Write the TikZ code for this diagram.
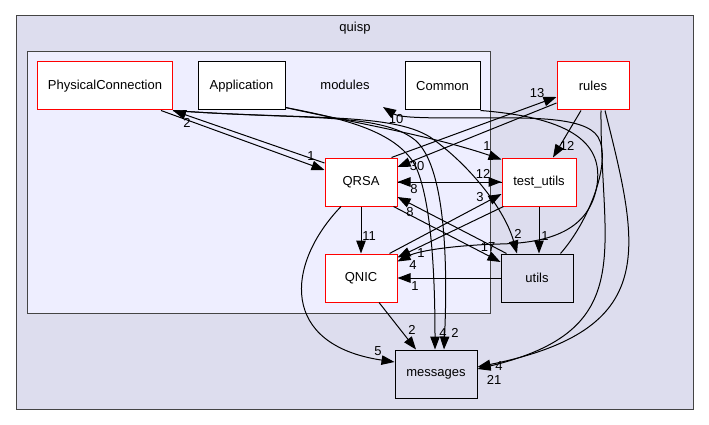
\documentclass[tikz,border=0pt]{standalone}
\usepackage{fontspec}
\setmainfont{Liberation Sans}
\usepackage{xcolor}
\usepackage{tikz}
\usetikzlibrary{arrows.meta}
\definecolor{quispfill}{HTML}{DDDDEE}
\definecolor{modfill}{HTML}{EEEEFF}
\definecolor{clusterline}{HTML}{444444}
\definecolor{dirred}{HTML}{FF0000}

\begin{document}
\begin{tikzpicture}[x=1pt, y=-1pt, line width=1pt,
    every node/.style={font=\fontsize{13}{15}\selectfont},
    dirbox/.style={draw=black, fill=white, minimum height=48pt, inner sep=0pt},
    moddir/.style={dirbox, draw=dirred},
    extdir/.style={dirbox, fill=quispfill},
    dep/.style={-{Triangle[length=13pt,width=9.5pt]}},
    lbl/.style={inner sep=0pt}]
  \useasboundingbox (0,0) rectangle (709,425);
  % clusters
  \draw[clusterline, fill=quispfill] (16,16) rectangle (693,409);
  \node (quisp) at (355,28) {quisp};
  \draw[clusterline, fill=modfill] (27,52) rectangle (490,313);
  \node (modules) at (345,85) {modules};
  \coordinate (modin) at (383,107);
  % directories
  \node[moddir, minimum width=135pt] (physconn) at (105,86) {PhysicalConnection};
  \node[dirbox, minimum width=87pt] (app) at (241.5,86) {Application};
  \node[dirbox, minimum width=75pt] (common) at (442.5,86) {Common};
  \node[moddir, minimum width=72pt] (rules) at (593,86) {rules};
  \node[moddir, minimum width=72pt] (qrsa) at (361,182) {QRSA};
  \node[moddir, minimum width=74pt] (testutils) at (539,182) {test\_utils};
  \node[moddir, minimum width=72pt] (qnic) at (361,278) {QNIC};
  \node[extdir, minimum width=72pt] (utils) at (537,278) {utils};
  \node[extdir, minimum width=82pt] (messages) at (436,374) {messages};
  % straight deps
  \draw[dep] ([xshift=-12pt]physconn.south east) -- ([yshift=12pt]qrsa.west);
  \draw[dep] ([yshift=19pt]qrsa.west) -- (physconn.south east);
  \draw[dep] ([xshift=-6pt]qrsa.north east) -- ([yshift=-11pt]rules.west);
  \draw[dep] ([yshift=-17pt]rules.west) -- ([yshift=15pt]qrsa.east);
  \draw[dep] (qrsa.east) -- (testutils.west);
  \draw[dep] (testutils.west) -- (qrsa.east);
  \draw[dep] (qrsa.south) -- (qnic.north);
  \draw[dep] (utils.west) -- (qnic.east);
  \draw[dep] (testutils.south) -- (testutils.south |- utils.north);
  \draw[dep] ([xshift=-12pt]rules.south) -- ([xshift=14pt]testutils.north);
  \draw[dep] ([xshift=-8pt]qnic.north east) -- ([yshift=-12pt]testutils.west);
  \draw[dep] ([xshift=2pt]testutils.south west) -- ([yshift=-4pt]qnic.north east);
  \draw[dep] ([xshift=-4pt]qrsa.south east) -- ([yshift=16pt]utils.west);
  \draw[dep] ([xshift=6pt]utils.north west) -- ([yshift=-15pt]qrsa.east);
  \draw[dep] ([xshift=18pt]qnic.south) -- ([xshift=-20pt]messages.north);
  % curved deps
  \draw[dep] ([xshift=-20pt]qrsa.south) .. controls (285,265) and (280,345) .. ([yshift=12pt]messages.west);
  \draw[dep] ([yshift=3pt]app.south east) .. controls (340,120) and (430,135) .. ([yshift=-2pt]testutils.north west);
  \draw[dep] ([yshift=3pt]app.south east) .. controls (340,118) and (395,130) .. (415,165)
    .. controls (432,200) and (435,280) .. ([xshift=-1pt]messages.north);
  \draw[dep] (physconn.south east) .. controls (300,120) and (380,112) .. (415,140)
    .. controls (445,165) and (448,260) .. ([xshift=8pt]messages.north);
  \draw[dep] (physconn.south east) .. controls (300,120) and (390,112) .. (430,137)
    .. controls (470,165) and (505,210) .. ([xshift=-20pt]utils.north);
  \draw[dep] (common.south east) .. controls (575,118) and (603,145) .. (597,185)
    .. controls (590,230) and (550,243) .. (500,244)
    .. controls (460,245) and (420,250) .. ([yshift=-8pt]qnic.north east);
  \draw[dep] ([xshift=-13pt]utils.north east) .. controls (590,220) and (612,160) .. (598,137)
    .. controls (585,115) and (520,118) .. (470,118)
    .. controls (430,118) and (400,118) .. (modin);
  \draw[dep] ([xshift=8pt]rules.south) .. controls (600,250) and (640,330) .. ([yshift=5pt]messages.east);
  \draw[dep] ([xshift=12pt]rules.south) .. controls (640,250) and (660,330) .. ([yshift=7pt]messages.east);
  % counts
  \node[lbl] (lpq) at (311,156) {1};
  \node[lbl] (lqp) at (187,123) {2};
  \node[lbl] (lqr) at (537,93) {13};
  \node[lbl] (lrq) at (417,166) {30};
  \node[lbl] (lqt) at (483,174) {12};
  \node[lbl] (ltq) at (414,189) {8};
  \node[lbl] (lqn) at (369,236) {11};
  \node[lbl] (lun) at (415,286) {1};
  \node[lbl] (ltu) at (545,236) {1};
  \node[lbl] (lrt) at (567,146) {12};
  \node[lbl] (lnt) at (480,197) {3};
  \node[lbl] (ltn) at (421,253) {1};
  \node[lbl] (lqu) at (488,247) {17};
  \node[lbl] (luq) at (410,212) {8};
  \node[lbl] (lqm) at (378,351) {5};
  \node[lbl] (lnm) at (412,330) {2};
  \node[lbl] (lam) at (443,333) {4};
  \node[lbl] (lpm) at (455,333) {2};
  \node[lbl] (lpu) at (518,234) {2};
  \node[lbl] (lat) at (487,146) {1};
  \node[lbl] (lcn) at (413,265) {4};
  \node[lbl] (lum) at (396,119) {10};
  \node[lbl] (lrm) at (494,380) {21};
  \node[lbl] (lrm2) at (499,366) {4};
\end{tikzpicture}
\end{document}
